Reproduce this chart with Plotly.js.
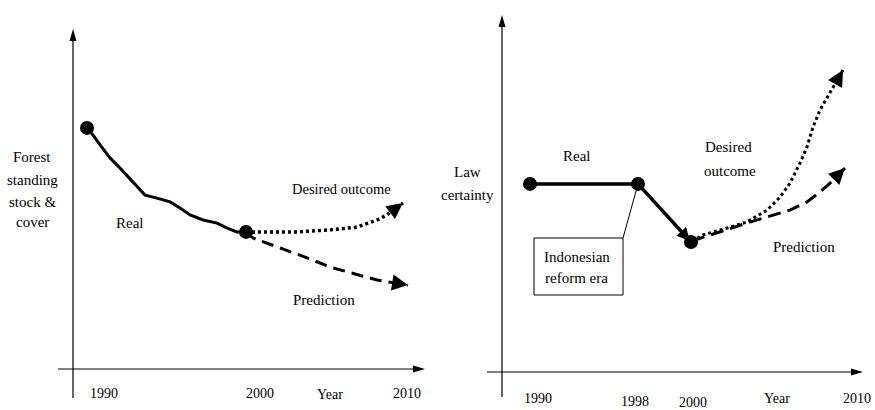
<!DOCTYPE html>
<html><head><meta charset="utf-8">
<script src="https://cdn.plot.ly/plotly-3.0.1.min.js"></script>
<style>
html,body{margin:0;padding:0;background:#fff}
#chart{width:875px;height:410px}
</style>
</head><body><div id="chart"></div>
<script>
// ---------- DATA (schematic index values) ----------
// Left panel: forest standing stock & cover vs year
const forestRealYears   = [1990,1990.38,1990.82,1991.45,1992.08,1992.89,1993.65,1994.40,1995.22,1995.85,1996.48,1997.30,1998.18,1998.81,1999.43,2000];
const forestRealValues  = [70.7,68.6,65.7,61.9,58.9,54.8,51.0,50.1,49.0,47.2,45.2,43.7,42.8,41.3,40.2,40.2];
const forestDotYears    = [1990, 2000];
const forestDotValues   = [70.7, 40.2];
const forestDesiredYears  = [2000,2000.69,2003.21,2005.28,2006.98,2008.24,2008.87,2009.87];
const forestDesiredValues = [40.2,40.2,40.2,40.8,41.6,43.7,45.2,48.7];
const forestPredYears   = [2000,2000.44,2002.14,2003.84,2005.28,2006.98,2008.24,2010.19];
const forestPredValues  = [40.2,38.4,35.5,32.6,29.9,27.6,26.1,24.6];
const forestTickYears   = [1990, 2000, 2010];
const forestTickLabels  = ['1990', '2000', '2010'];

// Right panel: law certainty vs schematic timeline position
const lawRealPos     = [7.76, 37.67, 52.08];
const lawRealValues  = [52.4, 52.4, 36.5];
const lawDotPos      = [7.76, 37.67, 52.35];
const lawDotValues   = [52.4, 52.4, 36.2];
const lawDesiredPos    = [52.63,55.68,62.33,67.87,73.41,77.01,79.78,82.55,84.49,86.15,88.09,90.86,94.46];
const lawDesiredValues = [36.5,38.2,40.1,41.8,45.1,48.7,52.6,58.2,62.7,68.2,73.0,77.7,84.1];
const lawPredPos     = [52.63,62.33,67.87,73.41,79.78,84.49,88.09,90.86,95.01];
const lawPredValues  = [36.5,39.8,41.5,43.2,45.1,47.4,50.1,52.6,56.8];
const lawTickPos     = [7.76, 37.67, 52.63, 98.34];
const lawTickLabels  = ['1990', '1998', '2000', '2010'];

// ---------- helpers ----------
const W = 875, H = 410;
const X = px => px / W;
const Y = py => 1 - py / H;
const FONT = 'Liberation Serif';

function lineTrace(x, y, xa, ya, width, dash) {
  return {
    x: x, y: y, xaxis: xa, yaxis: ya, type: 'scatter', mode: 'lines',
    line: {color: '#000', width: width, dash: dash}, hoverinfo: 'skip'
  };
}
function dotTrace(x, y, xa, ya, size) {
  return {x: x, y: y, xaxis: xa, yaxis: ya, type: 'scatter', mode: 'markers',
          marker: {color: '#000', size: size, symbol: 'circle', line: {width: 0}}, hoverinfo: 'skip'};
}
// arrowhead at the end of a series, oriented along its last segment
function headAt(x, y, xa, ya, scale) {
  const n = x.length;
  const f = 0.35;
  return {
    xref: xa, yref: ya, axref: xa, ayref: ya,
    x: x[n - 1], y: y[n - 1],
    ax: x[n - 1] - f * (x[n - 1] - x[n - 2]), ay: y[n - 1] - f * (y[n - 1] - y[n - 2]),
    text: '', showarrow: true, arrowhead: 2, arrowcolor: '#000',
    arrowwidth: 0.5, arrowsize: scale / 0.5, standoff: 0
  };
}

const traces = [
  lineTrace(forestRealYears, forestRealValues, 'x', 'y', 3, 'solid'),
  lineTrace(forestDesiredYears, forestDesiredValues, 'x', 'y', 3.5, '3px,3px'),
  lineTrace(forestPredYears, forestPredValues, 'x', 'y', 3, '12px,7px'),
  dotTrace(forestDotYears, forestDotValues, 'x', 'y', 14),

  lineTrace(lawDesiredPos, lawDesiredValues, 'x2', 'y2', 3, '3px,3px'),
  lineTrace(lawPredPos, lawPredValues, 'x2', 'y2', 3, '13px,7px'),
  lineTrace(lawRealPos, lawRealValues, 'x2', 'y2', 3.5, 'solid'),
  dotTrace(lawDotPos, lawDotValues, 'x2', 'y2', 14)
];

// ---------- decorations (axes with arrowheads, callout box) ----------
function seg(x0, y0, x1, y1, w) {
  return {type: 'line', xref: 'paper', yref: 'paper', x0: X(x0), y0: Y(y0), x1: X(x1), y1: Y(y1),
          line: {color: '#000', width: w}};
}
function tri(p) {
  const d = 'M' + p.map(q => X(q[0]) + ',' + Y(q[1])).join('L') + 'Z';
  return {type: 'path', xref: 'paper', yref: 'paper', path: d, fillcolor: '#000', line: {width: 0}};
}
const shapes = [
  seg(73, 398, 73, 40, 1.2), tri([[73, 29], [69.5, 41], [76.5, 41]]),
  seg(58, 369, 414, 369, 1.2), tri([[425, 369], [413, 365.5], [413, 372.5]]),
  seg(502, 397, 502, 26, 1.2), tri([[502, 15], [498.5, 27], [505.5, 27]]),
  seg(487, 372, 852, 372, 1.2), tri([[863, 372], [851, 368.5], [851, 375.5]]),
  seg(623, 238, 638, 184, 1),
  {type: 'rect', xref: 'paper', yref: 'paper', x0: X(534), y0: Y(295), x1: X(623), y1: Y(238),
   line: {color: '#000', width: 1}, fillcolor: 'rgba(0,0,0,0)'}
];

function txt(t, px, py, size) {
  return {text: t, xref: 'paper', yref: 'paper', x: X(px), y: Y(py), xanchor: 'center', yanchor: 'middle',
          showarrow: false, font: {family: FONT, size: size || 15, color: '#000'}};
}
const annotations = [
  txt('Forest', 32, 157), txt('standing', 32, 180), txt('stock &amp;', 32, 202), txt('cover', 32, 222),
  txt('Real', 130, 223), txt('Desired outcome', 341, 189, 14.5), txt('Prediction', 324, 300),
  txt('Year', 330, 394, 14),
  txt('Law', 468, 172), txt('certainty', 468, 195),
  txt('Real', 577, 156), txt('Desired', 728, 147), txt('outcome', 730, 171),
  txt('Prediction', 804, 247),
  txt('Indonesian', 577, 257), txt('reform era', 576, 278),
  txt('Year', 777, 398, 14),
  headAt(forestDesiredYears, forestDesiredValues, 'x', 'y', 3.2),
  headAt(forestPredYears, forestPredValues, 'x', 'y', 3.2),
  headAt(lawDesiredPos, lawDesiredValues, 'x2', 'y2', 3.2),
  headAt(lawPredPos, lawPredValues, 'x2', 'y2', 3.2),
  headAt(lawRealPos, lawRealValues, 'x2', 'y2', 2.6)
];
const forestTickShift = [17, 14, 2];
forestTickYears.forEach((yr, i) => annotations.push({
  text: forestTickLabels[i], xref: 'x', yref: 'paper', x: yr, xshift: forestTickShift[i], y: Y(393),
  xanchor: 'center', yanchor: 'middle', showarrow: false, font: {family: FONT, size: 14, color: '#000'}
}));
const lawTickShift = [8, -3, 1, 0];
const lawTickDrop = [398, 401, 402, 398];
lawTickPos.forEach((p, i) => annotations.push({
  text: lawTickLabels[i], xref: 'x2', yref: 'paper', x: p, xshift: lawTickShift[i], y: Y(lawTickDrop[i]),
  xanchor: 'center', yanchor: 'middle', showarrow: false, font: {family: FONT, size: 14, color: '#000'}
}));

const layout = {
  width: W, height: H,
  margin: {l: 0, r: 0, t: 0, b: 0, pad: 0},
  paper_bgcolor: '#fff', plot_bgcolor: 'rgba(0,0,0,0)',
  showlegend: false,
  font: {family: FONT, size: 15, color: '#000'},
  xaxis:  {domain: [0, 440 / W], range: [1984.528, 2012.201], visible: false, anchor: 'y', fixedrange: true},
  yaxis:  {domain: [0, 1], range: [-12.02, 108.21], visible: false, anchor: 'x', fixedrange: true},
  xaxis2: {domain: [440 / W, 1], range: [-17.17, 103.32], visible: false, anchor: 'y2', fixedrange: true},
  yaxis2: {domain: [0, 1], range: [-10.58, 103.62], visible: false, anchor: 'x2', fixedrange: true},
  shapes: shapes,
  annotations: annotations
};

Plotly.newPlot('chart', traces, layout, {staticPlot: true, displayModeBar: false});
</script>
</body></html>
